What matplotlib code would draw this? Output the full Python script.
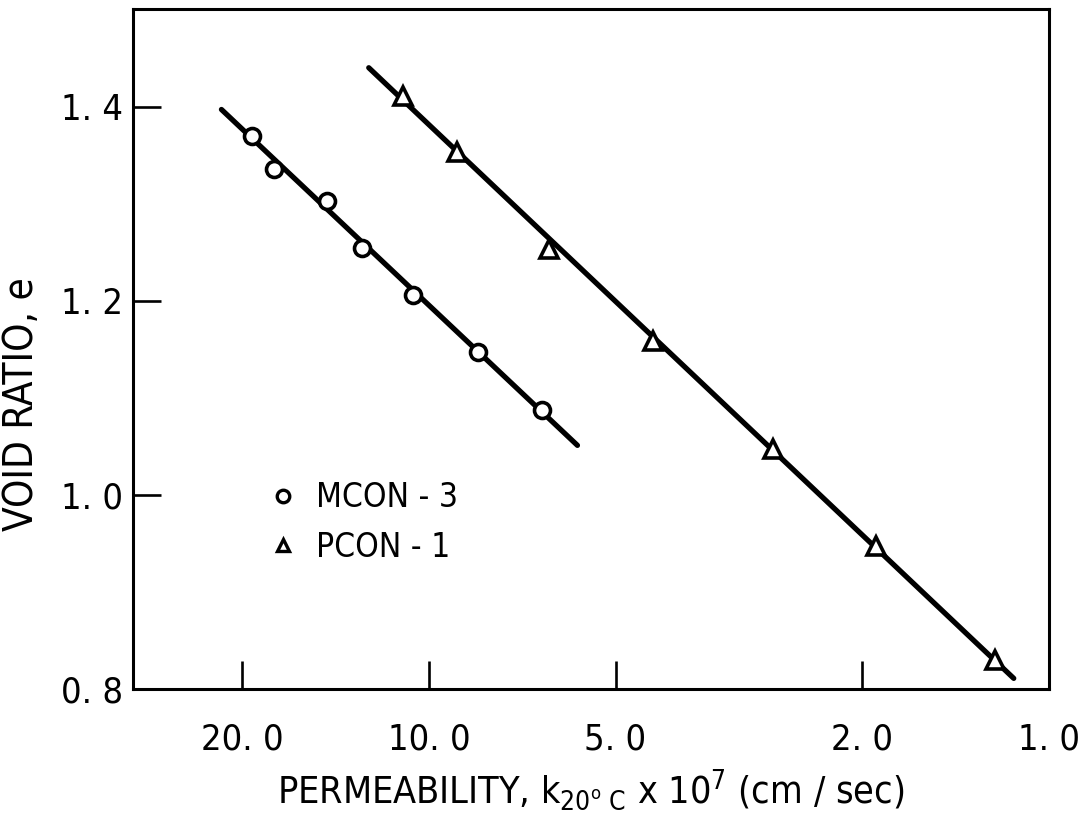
import matplotlib
matplotlib.use('Agg')
import matplotlib.pyplot as plt
from matplotlib.lines import Line2D
from matplotlib.ticker import FixedLocator, NullLocator

# --- data
mcon_k = [19.3, 17.8, 14.6, 12.8, 10.6, 8.34, 6.58]
mcon_e = [1.370, 1.336, 1.303, 1.254, 1.206, 1.147, 1.087]
pcon_k = [11.0, 9.02, 6.39, 4.35, 2.79, 1.90, 1.22]
pcon_e = [1.411, 1.353, 1.253, 1.159, 1.047, 0.947, 0.830]

# fitted lines (end points)
mcon_fit_k = [21.6, 5.76]
mcon_fit_e = [1.397, 1.051]
pcon_fit_k = [12.5, 1.14]
pcon_fit_e = [1.440, 0.811]

x_ticks = [20.0, 10.0, 5.0, 2.0, 1.0]
x_ticklabels = ['20. 0', '10. 0', '5. 0', '2. 0', '1. 0']
y_ticks = [0.8, 1.0, 1.2, 1.4]
y_ticklabels = ['0. 8', '1. 0', '1. 2', '1. 4']

plt.rcParams['font.family'] = ['DejaVu Sans']
plt.rcParams['font.stretch'] = 'condensed'
plt.rcParams['mathtext.default'] = 'regular'

fig = plt.figure(figsize=(10.89, 8.25), dpi=100)
ax = fig.add_axes([0.1221, 0.1648, 0.9633 - 0.1221, 0.9885 - 0.1648])

ax.plot(mcon_fit_k, mcon_fit_e, color='black', lw=3.8, solid_capstyle='round', zorder=2)
ax.plot(pcon_fit_k, pcon_fit_e, color='black', lw=3.8, solid_capstyle='round', zorder=2)
ax.plot(mcon_k, mcon_e, 'o', ms=11.5, mfc='white', mec='black', mew=2.6, zorder=3)
ax.plot(pcon_k, pcon_e, '^', ms=12.5, mfc='white', mec='black', mew=2.6, zorder=3)

ax.set_xscale('log')
ax.set_xlim(30, 1.0)
ax.set_ylim(0.8, 1.5)

ax.xaxis.set_major_locator(FixedLocator(x_ticks))
ax.xaxis.set_minor_locator(NullLocator())
ax.set_xticklabels(x_ticklabels)
ax.set_yticks(y_ticks)
ax.set_yticklabels(y_ticklabels)

ax.tick_params(axis='both', direction='in', length=20, width=1.9, labelsize=26)
ax.tick_params(axis='x', pad=24)
ax.tick_params(axis='y', pad=7)
for s in ax.spines.values():
    s.set_linewidth(2.2)

ax.set_xlabel(r'PERMEABILITY, k$_{20^o\ C}$ x 10$^{7}$ (cm / sec)', fontsize=27, labelpad=8)
ax.set_ylabel('VOID RATIO, e', fontsize=29)
ax.yaxis.set_label_coords(-0.099, 0.42)

handles = [
    Line2D([], [], ls='none', marker='o', ms=9, mfc='white', mec='black', mew=2.4),
    Line2D([], [], ls='none', marker='^', ms=9, mfc='white', mec='black', mew=2.4),
]
ax.legend(handles, ['MCON - 3', 'PCON - 1'], loc='upper left', bbox_to_anchor=(0.113, 0.35),
          frameon=False, fontsize=24, handletextpad=0.5, labelspacing=0.5, handlelength=1.0)

fig.savefig('out.png', dpi=100)
